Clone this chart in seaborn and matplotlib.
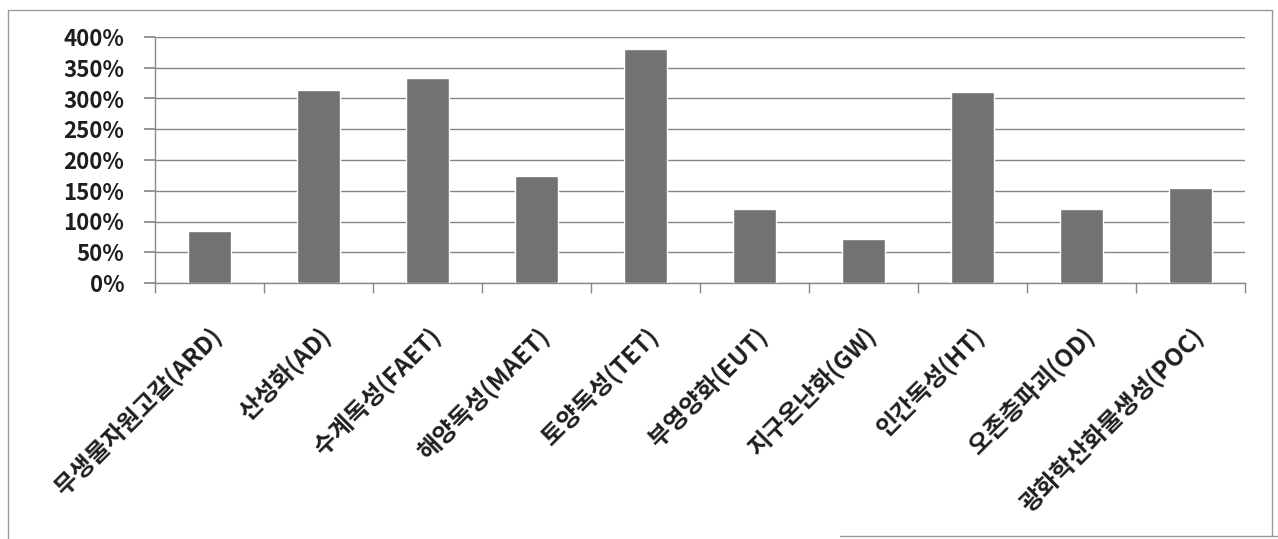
import matplotlib
matplotlib.use("Agg")
import matplotlib.pyplot as plt
import seaborn as sns
import pandas as pd
import numpy as np
from matplotlib.lines import Line2D
from matplotlib.ticker import FixedLocator, FuncFormatter

categories = ["무생물자원고갈(ARD)", "산성화(AD)", "수계독성(FAET)", "해양독성(MAET)",
              "토양독성(TET)", "부영양화(EUT)", "지구온난화(GW)", "인간독성(HT)",
              "오존층파괴(OD)", "광화학산화물생성(POC)"]
values = [85, 314, 333, 174, 381, 121, 72, 310, 121, 155]
y_ticks = [0, 50, 100, 150, 200, 250, 300, 350, 400]

sns.set_theme(style="white")
plt.rcParams['font.family'] = ['Noto Sans CJK KR', 'DejaVu Sans']

df = pd.DataFrame({"category": categories, "value": values})

fig = plt.figure(figsize=(12.78, 5.39), dpi=100)
ax = fig.add_axes([155/1278, 1 - 283/539, (1245-155)/1278, (283-37)/539])

sns.barplot(data=df, x="category", y="value", color="#727272", width=0.4,
            saturation=1, ax=ax, zorder=3)

ax.set_ylim(0, 400)
ax.set_xlim(-0.5, len(categories) - 0.5)
ax.yaxis.set_major_locator(FixedLocator(y_ticks))
ax.yaxis.set_major_formatter(FuncFormatter(lambda v, p: f"{v:.0f}%"))
ax.grid(axis="y", color="#858585", linewidth=1.0, zorder=0)
ax.set_axisbelow(True)
ax.set_xlabel("")
ax.set_ylabel("")

ax.tick_params(axis="y", labelsize=16, length=8, color="#888888", pad=14, left=True, direction="out")
for lbl in ax.get_yticklabels():
    lbl.set_color("#1e1e1e")
    lbl.set_fontweight("bold")

ax.set_xticks(range(len(categories)))
ax.set_xticklabels(categories, rotation=45, ha="right", rotation_mode="anchor",
                   fontsize=17.5, color="#1e1e1e", fontweight="bold")
ax.tick_params(axis="x", which="major", length=0, pad=29)
ax.set_xticks(np.arange(-0.5, len(categories), 1.0), minor=True)
ax.tick_params(axis="x", which="minor", length=7, color="#888888", bottom=True, direction="out")

for side in ["top", "right"]:
    ax.spines[side].set_visible(False)
for side in ["left", "bottom"]:
    ax.spines[side].set_color("#8a8a8a")
    ax.spines[side].set_linewidth(1.0)

# outer chart border
W, H = 1278, 539
def fl(x0, y0, x1, y1):
    fig.add_artist(Line2D([x0/W, x1/W], [1 - y0/H, 1 - y1/H], color="#9a9a9a",
                          linewidth=1.0, transform=fig.transFigure))
fl(8, 10, 1272, 10)
fl(8, 10, 8, 539)
fl(1272, 10, 1272, 535)
fl(840, 536, 1278, 536)

fig.savefig("out.png", dpi=100)
